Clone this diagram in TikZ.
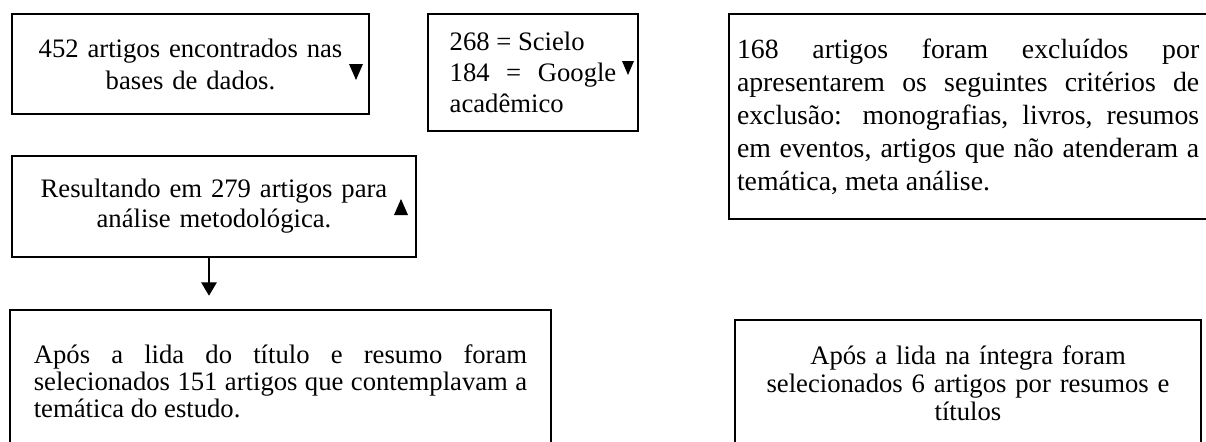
\documentclass[tikz,border=0pt]{standalone}
\usepackage{fontspec}
\setmainfont{Liberation Serif}
\usetikzlibrary{arrows.meta}
\hyphenpenalty=10000
\exhyphenpenalty=10000
\tolerance=9999

\begin{document}
\begin{tikzpicture}[x=0.45pt,y=-0.45pt,
      every node/.style={draw,line width=0.9pt,anchor=north west,inner ysep=0pt},
      box/.style={font=\fontsize{12}{14}\selectfont},
      marker/.style={fill=black},
      flow/.style={line width=0.5pt,-{Triangle[width=7pt,length=6pt]}}]
    \useasboundingbox (0,0) rectangle (1206,441);
    \clip (0,0) rectangle (1206,441);
    \node[box,minimum width=160.65pt,minimum height=45pt,text width=150pt,inner xsep=5.3pt,align=center,
      font=\fontsize{12}{14.4}\selectfont] (bases) at (11,13)
      {452 artigos encontrados nas\\ bases de dados.};
    \node[box,minimum width=94.5pt,minimum height=52.65pt,text width=75pt,inner xsep=9.75pt,align=justify,
      font=\fontsize{12}{13.8}\selectfont] (fontes) at (427,13)
      {268 = Scielo\newline 184 = Google acadêmico};
    \node[box,minimum width=215.2pt,minimum height=92.25pt,text width=208pt,inner xsep=3.6pt,align=justify,
      font=\fontsize{12.5}{14.85}\selectfont] (excluidos) at (728,13)
      {168 artigos foram excluídos por apresentarem os seguintes critérios de exclusão: monografias, livros, resumos em eventos, artigos que não atenderam a temática, meta análise.};
    \node[box,minimum width=181.8pt,minimum height=45.45pt,text width=170pt,inner xsep=5.9pt,align=center,
      font=\fontsize{12}{13.5}\selectfont] (resultado) at (11,155)
      {Resultando em 279 artigos para\\ análise metodológica.};
    \node[box,minimum width=243.45pt,minimum height=63.9pt,text width=222pt,inner xsep=10.7pt,align=justify,
      font=\fontsize{12}{12.2}\selectfont] (titulo) at (9,309)
      {Após a lida do título e resumo foram selecionados 151 artigos que contemplavam a temática do estudo.};
    \node[box,minimum width=209.7pt,minimum height=56.7pt,text width=188pt,inner xsep=10.85pt,align=center,
      font=\fontsize{12}{12.6}\selectfont] (integra) at (734,319)
      {Após a lida na íntegra foram\\ selecionados 6 artigos por resumos e\\ títulos};
    \draw[flow,shorten >=6pt] ([xshift=-2.25pt]resultado.south) -- ([xshift=-2.25pt]resultado.south |- titulo.north);
    \coordinate (m1) at (356,72);
    \coordinate (m2) at (628,68);
    \coordinate (m3) at (401,207);
    \fill[marker] (m1) +(-7,-8) -- +(7,-8) -- +(0,8) -- cycle;
    \fill[marker] (m2) +(-6,-7) -- +(6,-7) -- +(0,7) -- cycle;
    \fill[marker] (m3) +(-7,8) -- +(7,8) -- +(0,-8) -- cycle;
\end{tikzpicture}
\end{document}
